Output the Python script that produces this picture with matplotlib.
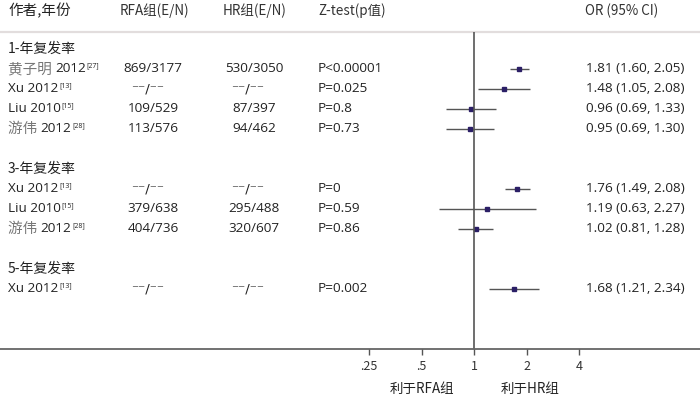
import numpy as np
import matplotlib.pyplot as plt

plt.rcParams['font.family'] = ['Open Sans', 'Noto Sans CJK SC', 'DejaVu Sans']

# study rows (group header rows have no data)
groups = ['1-年复发率', '3-年复发率', '5-年复发率']
authors = [['黄子明', 'Xu', 'Liu', '游伟'],
           ['Xu', 'Liu', '游伟'],
           ['Xu']]
years = [['2012', '2012', '2010', '2012'],
         ['2012', '2010', '2012'],
         ['2012']]
refs = [['[27]', '[13]', '[15]', '[28]'],
        ['[13]', '[15]', '[28]'],
        ['[13]']]
rfa = [['869/3177', '⁻⁻/⁻⁻', '109/529', '113/576'],
       ['⁻⁻/⁻⁻', '379/638', '404/736'],
       ['⁻⁻/⁻⁻']]
hr = [['530/3050', '⁻⁻/⁻⁻', '87/397', '94/462'],
      ['⁻⁻/⁻⁻', '295/488', '320/607'],
      ['⁻⁻/⁻⁻']]
pvals = [['P<0.00001', 'P=0.025', 'P=0.8', 'P=0.73'],
         ['P=0', 'P=0.59', 'P=0.86'],
         ['P=0.002']]
orv = [[1.81, 1.48, 0.96, 0.95], [1.76, 1.19, 1.02], [1.68]]
lo = [[1.60, 1.05, 0.69, 0.69], [1.49, 0.63, 0.81], [1.21]]
hi = [[2.05, 2.08, 1.33, 1.30], [2.08, 2.27, 1.28], [2.34]]
ticks = [0.25, 0.5, 1, 2, 4]
tick_labels = ['.25', '.5', '1', '2', '4']

W, H = 700, 399
fig = plt.figure(figsize=(7, 3.99), dpi=100)

# text layer in pixel units
ax_t = fig.add_axes([0, 0, 1, 1])
ax_t.set_xlim(0, W)
ax_t.set_ylim(H, 0)
ax_t.axis('off')

# forest layer: log2 x, 1 at x=474px, 52.5px per doubling
ax = fig.add_axes([0, 0, 1, 1], facecolor='none')
ax.set_xscale('log', base=2)
x1, step = 474.3, 52.5
ax.set_xlim(2 ** ((0 - x1) / step), 2 ** ((W - x1) / step))
ax.set_ylim(H, 0)
ax.axis('off')

narrow = ['Liberation Sans Narrow', 'Noto Sans CJK SC']
cjk = ['Noto Sans CJK SC', 'DejaVu Sans']
dash_font = ['DejaVu Sans']
fs = 9.7

# header
ax_t.text(8, 11, '作者,年份', fontsize=10.5, family=cjk, va='center', color='#222')
ax_t.text(120, 11, 'RFA组(E/N)', fontsize=9.7, family=narrow, va='center', color='#333')
ax_t.text(223, 11, 'HR组(E/N)', fontsize=9.7, family=narrow, va='center', color='#333')
ax_t.text(318, 11, 'Z-test(p值)', fontsize=9.7, family=narrow, va='center', color='#333')
ax_t.text(585, 11, 'OR (95% CI)', fontsize=9.7, family=narrow, va='center', color='#333')
ax_t.axhline(31.5, color='#e2dddd', lw=1.6)

y = 49
rows_y = []
for g in range(len(groups)):
    ax_t.text(8, y, groups[g], fontsize=10, family=cjk, va='center', color='#222')
    y += 20
    for i in range(len(authors[g])):
        a = authors[g][i]
        is_cjk = any(ord(c) > 0x3000 for c in a)
        if is_cjk:
            t = ax_t.text(8, y, a + ' ', fontsize=10.5, family=cjk, va='center', color='#777')
            t = ax_t.annotate(years[g][i], xy=(1, 0.5), xycoords=t, va='center',
                              fontsize=fs, color='#222')
        else:
            t = ax_t.text(8, y, a + ' ' + years[g][i], fontsize=fs, va='center', color='#222')
        ax_t.annotate(refs[g][i], xy=(1, 1), xycoords=t, xytext=(0.5, 0),
                      textcoords='offset points', va='top', fontsize=5, color='#222')
        dash = rfa[g][i].startswith('⁻')
        ax_t.text(153 - (5 if dash else 0), y, rfa[g][i], fontsize=fs, ha='center', va='center',
                  color='#222', family=dash_font if dash else None)
        ax_t.text(254 - (6 if dash else 0), y, hr[g][i], fontsize=fs, ha='center', va='center',
                  color='#222', family=dash_font if dash else None)
        ax_t.text(318, y, pvals[g][i], fontsize=fs, va='center', color='#222')
        ax_t.text(586, y, '%.2f (%.2f, %.2f)' % (orv[g][i], lo[g][i], hi[g][i]),
                  fontsize=fs, va='center', color='#222')
        rows_y.append(y)
        y += 20
    y += 20

# forest marks
ors = np.concatenate([np.array(v) for v in orv])
los = np.concatenate([np.array(v) for v in lo])
his = np.concatenate([np.array(v) for v in hi])
rows_y = np.array(rows_y)
ax.hlines(rows_y, los, his, color='#555555', lw=1.0)
ax.plot(ors, rows_y, 's', ms=3.2, color='#2b1f66', mec='#2b1f66')

# reference line and axis
ax.vlines(1, 32, 349, color='#555555', lw=1.2)
ax.axhline(349, color='#666666', lw=1.3)
ax.vlines(ticks, 349, 355, color='#555555', lw=1.0)
for tv, tl in zip(ticks, tick_labels):
    ax.text(tv, 366, tl, ha='center', va='center', fontsize=9, family=narrow, color='#333')
ax_t.text(422, 389, '利于RFA组', ha='center', va='center', fontsize=9.7, family=narrow, color='#222')
ax_t.text(530, 389, '利于HR组', ha='center', va='center', fontsize=9.7, family=narrow, color='#222')

fig.savefig('out.png', dpi=100)
